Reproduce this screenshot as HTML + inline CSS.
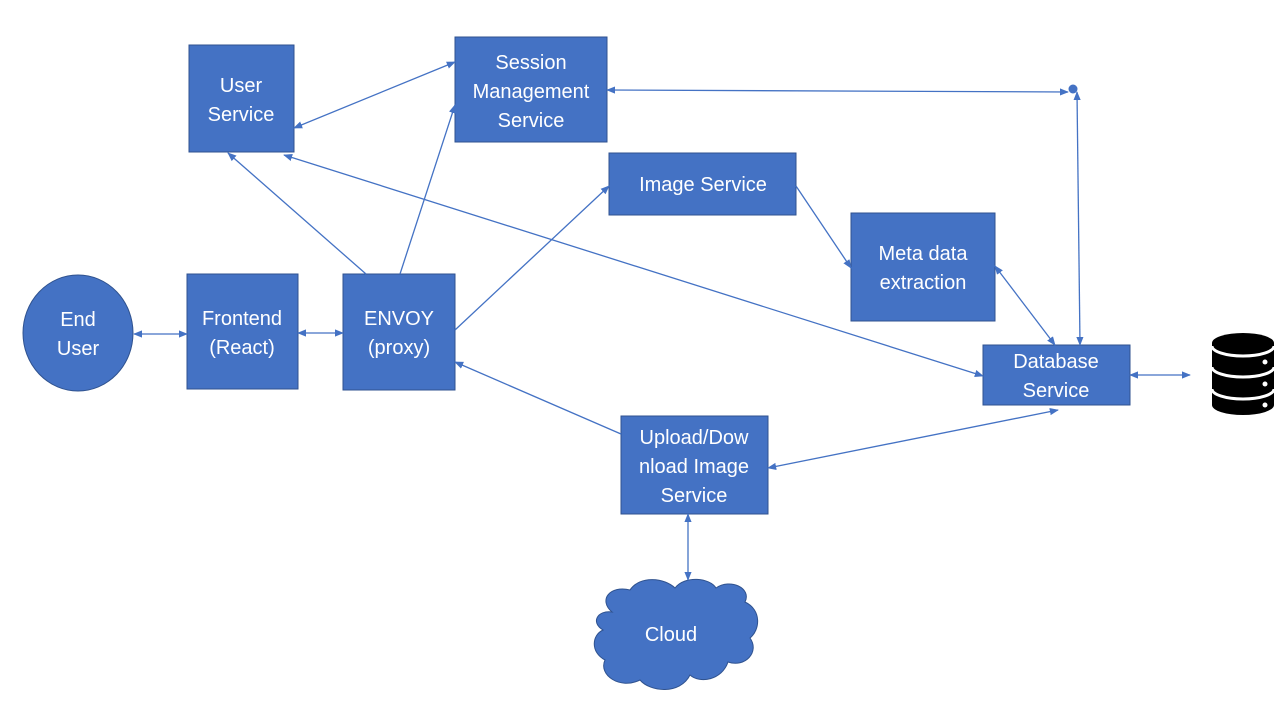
<!DOCTYPE html>
<html><head><meta charset="utf-8"><style>
html,body{margin:0;padding:0;background:#fff;width:1280px;height:720px;overflow:hidden}
svg text{font-family:"Liberation Sans",sans-serif;font-size:20px;fill:#fff;text-anchor:middle}
</style></head><body>
<svg width="1280" height="720" viewBox="0 0 1280 720" xmlns="http://www.w3.org/2000/svg">
<defs>
<marker id="a" viewBox="0 0 10 10" refX="9" refY="5" markerWidth="7" markerHeight="7" orient="auto-start-reverse"><path d="M0,1 L10,5 L0,9 z" fill="#4472C4"/></marker>
</defs>
<g stroke="#2F528F" stroke-width="1" fill="#4472C4">
<rect x="189" y="45" width="105" height="107"/>
<rect x="455" y="37" width="152" height="105"/>
<rect x="609" y="153" width="187" height="62"/>
<rect x="851" y="213" width="144" height="108"/>
<ellipse cx="78" cy="333" rx="55" ry="58"/>
<rect x="187" y="274" width="111" height="115"/>
<rect x="343" y="274" width="112" height="116"/>
<rect x="983" y="345" width="147" height="60"/>
<rect x="621" y="416" width="147" height="98"/>
<path d="M612,612 C598,600 610,585 630,590 C640,575 665,578 675,588 C685,575 710,578 716,588 C730,578 752,588 745,602 C762,610 760,630 750,638 C760,652 745,668 728,662 C722,680 700,684 690,675 C680,695 650,692 640,680 C620,690 598,675 605,660 C590,652 592,635 603,630 C590,622 598,610 612,612 z"/>
</g>
<circle cx="1073" cy="89" r="4.5" fill="#4472C4"/>
<g stroke="#4472C4" stroke-width="1.3" fill="none" marker-end="url(#a)">
<line x1="134" y1="334" x2="187" y2="334" marker-start="url(#a)"/>
<line x1="298" y1="333" x2="343" y2="333" marker-start="url(#a)"/>
<line x1="366" y1="274" x2="228" y2="153"/>
<line x1="400" y1="274" x2="455" y2="105"/>
<line x1="294" y1="128" x2="455" y2="62" marker-start="url(#a)"/>
<line x1="455" y1="330" x2="609" y2="186"/>
<line x1="796" y1="186" x2="851" y2="268"/>
<line x1="995" y1="266" x2="1055" y2="345" marker-start="url(#a)"/>
<line x1="284" y1="155" x2="983" y2="376" marker-start="url(#a)"/>
<line x1="607" y1="90" x2="1068" y2="92" marker-start="url(#a)"/>
<line x1="1077" y1="92" x2="1080" y2="345" marker-start="url(#a)"/>
<line x1="1130" y1="375" x2="1190" y2="375" marker-start="url(#a)"/>
<line x1="621" y1="434" x2="455" y2="362"/>
<line x1="768" y1="468" x2="1058" y2="410" marker-start="url(#a)"/>
<line x1="688" y1="514" x2="688" y2="580" marker-start="url(#a)"/>
</g>
<path d="M1212,343 A31,10 0 0 1 1274,343 L1274,405 A31,10 0 0 1 1212,405 z" fill="#000"/>
<g stroke="#fff" stroke-width="3" fill="none">
<path d="M1212,346 A31,10 0 0 0 1274,346"/>
<path d="M1212,367 A31,10 0 0 0 1274,367"/>
<path d="M1212,389 A31,10 0 0 0 1274,389"/>
</g>
<g fill="#fff"><circle cx="1265" cy="362" r="2.5"/><circle cx="1265" cy="384" r="2.5"/><circle cx="1265" cy="405" r="2.5"/></g>
<text x="241" y="92">User</text><text x="241" y="121">Service</text>
<text x="531" y="69">Session</text><text x="531" y="98">Management</text><text x="531" y="127">Service</text>
<text x="703" y="191">Image Service</text>
<text x="923" y="260">Meta data</text><text x="923" y="289">extraction</text>
<text x="78" y="326">End</text><text x="78" y="355">User</text>
<text x="242" y="325">Frontend</text><text x="242" y="354">(React)</text>
<text x="399" y="325">ENVOY</text><text x="399" y="354">(proxy)</text>
<text x="1056" y="368">Database</text><text x="1056" y="397">Service</text>
<text x="694" y="444">Upload/Dow</text><text x="694" y="473">nload Image</text><text x="694" y="502">Service</text>
<text x="671" y="641">Cloud</text>
</svg>
</body></html>
